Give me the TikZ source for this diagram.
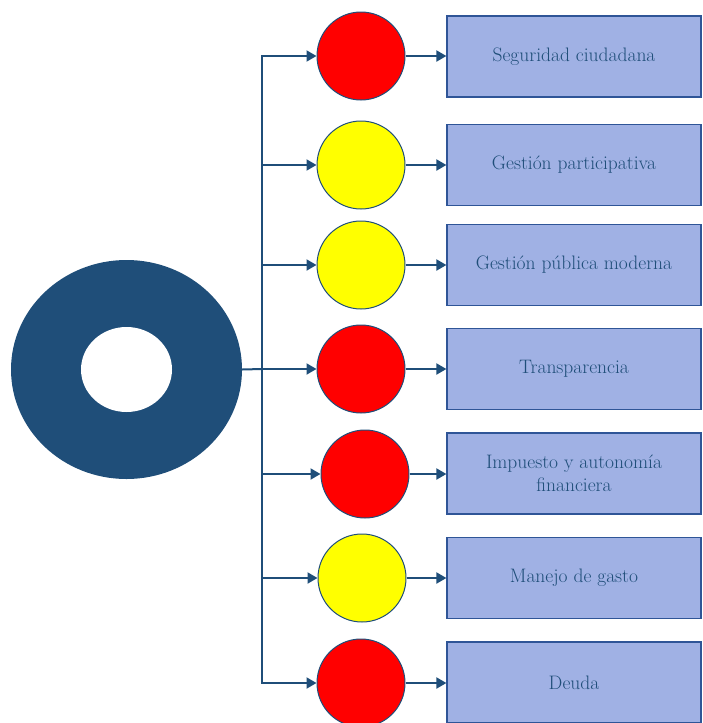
\documentclass[tikz,border=0pt]{standalone}
\usepackage{xcolor}
\usepackage{tikz}
\usetikzlibrary{arrows.meta,positioning,calc,shapes.geometric}
\definecolor{ringblue}{RGB}{31,78,121}
\definecolor{areafill}{RGB}{160,177,228}
\definecolor{areaborder}{RGB}{47,85,151}
\definecolor{labelblue}{RGB}{31,78,121}
\definecolor{alertred}{RGB}{255,0,0}
\definecolor{alertyellow}{RGB}{255,255,0}

\begin{document}
\begin{tikzpicture}[
  x=1pt, y=-1pt,
  dot/.style={circle, draw=ringblue, line width=1pt, minimum size=88pt, inner sep=0pt},
  reddot/.style={dot, fill=alertred},
  yellowdot/.style={dot, fill=alertyellow},
  areabox/.style={draw=areaborder, fill=areafill, line width=1.2pt, minimum width=254pt, minimum height=81pt, align=center, text=labelblue, font=\fontsize{19.5}{23.5}\selectfont},
  link/.style={draw=ringblue, line width=2pt},
  msg/.style={link, -{Triangle[length=10pt, width=11pt]}}
]
\useasboundingbox (0,0) rectangle (702,723);

% ring on the left
\node[ellipse, fill=ringblue, minimum width=231pt, minimum height=219pt, inner sep=0pt] (ring) at (126.5,369.5) {};
\node[ellipse, fill=white, minimum width=91pt, minimum height=85pt, inner sep=0pt] (hole) at (ring.center) {};
\coordinate (junction) at (262,369);

% status dots
\node[reddot] (seg) at (361,56) {};
\node[yellowdot] (part) at (361,165) {};
\node[yellowdot] (pub) at (361,265) {};
\node[reddot] (transp) at (361,369) {};
\node[reddot] (imp) at (365,474) {};
\node[yellowdot] (gasto) at (362,578) {};
\node[reddot] (deuda) at (361,683) {};

% area boxes
\node[areabox] (seg_b) at (574,56.5) {Seguridad ciudadana};
\node[areabox] (part_b) at (574,165) {Gestión participativa};
\node[areabox] (pub_b) at (574,265) {Gestión pública moderna};
\node[areabox] (transp_b) at (574,369) {Transparencia};
\node[areabox] (imp_b) at (574,473.5) {Impuesto y autonomía\\financiera};
\node[areabox] (gasto_b) at (574,578) {Manejo de gasto};
\node[areabox] (deuda_b) at (574,682.5) {Deuda};

% trunk
\draw[link] (ring.east) -- (junction);
\draw[link, line cap=rect] (seg -| junction) -- (deuda -| junction);

\draw[msg] (seg -| junction) -- (seg.west);
\draw[msg] (part -| junction) -- (part.west);
\draw[msg] (pub -| junction) -- (pub.west);
\draw[msg] (transp -| junction) -- (transp.west);
\draw[msg] (imp -| junction) -- (imp.west);
\draw[msg] (gasto -| junction) -- (gasto.west);
\draw[msg] (deuda -| junction) -- (deuda.west);

\draw[msg] (seg.east) -- (seg.east -| seg_b.west);
\draw[msg] (part.east) -- (part.east -| part_b.west);
\draw[msg] (pub.east) -- (pub.east -| pub_b.west);
\draw[msg] (transp.east) -- (transp.east -| transp_b.west);
\draw[msg] (imp.east) -- (imp.east -| imp_b.west);
\draw[msg] (gasto.east) -- (gasto.east -| gasto_b.west);
\draw[msg] (deuda.east) -- (deuda.east -| deuda_b.west);
\end{tikzpicture}
\end{document}
